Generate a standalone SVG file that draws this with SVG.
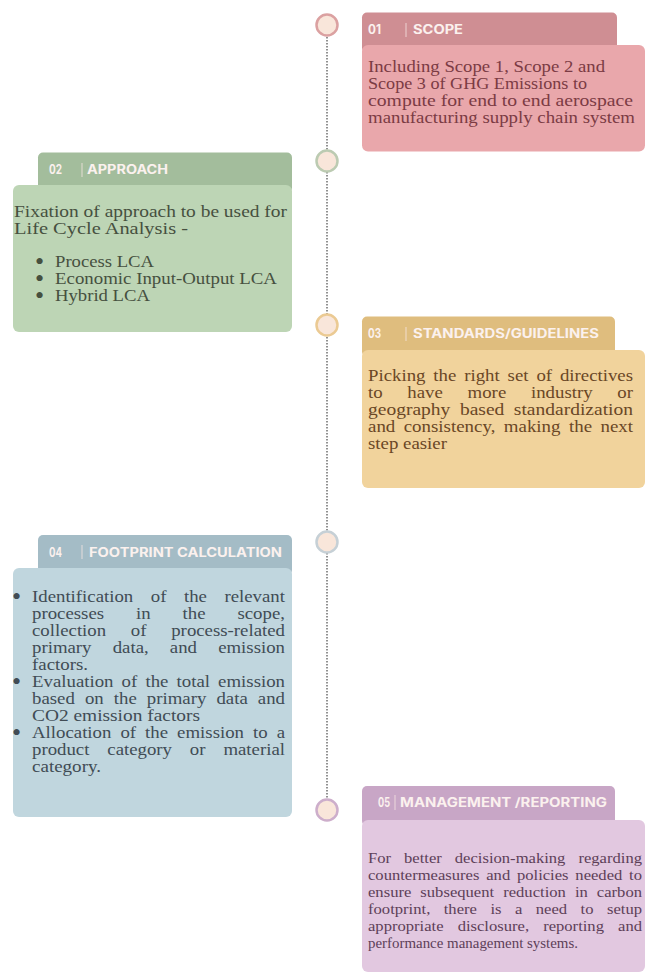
<svg xmlns="http://www.w3.org/2000/svg" width="652" height="974" viewBox="0 0 652 974">
<style>
.hd{font-family:Inter,"Open Sans","DejaVu Sans",sans-serif;font-weight:700;font-size:12.5px;fill:#fbf1ee}
.bar{stroke:#f6e6e2;stroke-width:0.8}
.bd{font-family:"Liberation Serif","Times New Roman",serif;font-size:17px}
.b5{font-family:"Liberation Serif","Times New Roman",serif;font-size:15px}
.bl{font-family:"Liberation Serif","Times New Roman",serif;font-size:26px}
.dot{fill:#f9e6da;stroke-width:2.5}
</style>
<rect width="652" height="974" fill="#ffffff"/>
<g id="connectors">
<line x1="327" y1="37" x2="327" y2="798" stroke="#6e6e6e" stroke-width="1.5" stroke-dasharray="1.5 1.5"/>
</g>
<g id="dots">
<circle class="dot" cx="327" cy="25" r="10.5" stroke="#dba1a1"/>
<circle class="dot" cx="327" cy="161" r="10.5" stroke="#bccbb2"/>
<circle class="dot" cx="327" cy="325" r="10.5" stroke="#ebca93"/>
<circle class="dot" cx="327" cy="542" r="10.5" stroke="#c6d0d6"/>
<circle class="dot" cx="327" cy="810" r="10.5" stroke="#cdaecb"/>
</g>
<g id="step01">
<rect x="362" y="12.5" width="255" height="40" rx="5" fill="#cf8e93"/>
<rect x="362" y="45" width="283" height="106.5" rx="6" fill="#e9a7ab"/>
<text class="hd" x="368" y="34" textLength="13" lengthAdjust="spacingAndGlyphs">01</text>
<line class="bar" x1="406" y1="23" x2="406" y2="37"/>
<text class="hd" x="413" y="34" textLength="50" lengthAdjust="spacingAndGlyphs">SCOPE</text>
<g class="bd" fill="#7b3b44">
<text x="368" y="72" textLength="237" lengthAdjust="spacingAndGlyphs">Including Scope 1, Scope 2 and</text>
<text x="368" y="89" textLength="219" lengthAdjust="spacingAndGlyphs">Scope 3 of GHG Emissions to</text>
<text x="368" y="106" textLength="265" lengthAdjust="spacingAndGlyphs">compute for end to end aerospace</text>
<text x="368" y="123" textLength="267" lengthAdjust="spacingAndGlyphs">manufacturing supply chain system</text>
</g>
</g>
<g id="step02">
<rect x="38" y="152.5" width="254" height="40" rx="5" fill="#a3bd9c"/>
<rect x="13" y="185" width="279" height="147" rx="6" fill="#bdd5b5"/>
<text class="hd" x="49" y="174" textLength="13" lengthAdjust="spacingAndGlyphs">02</text>
<line class="bar" x1="82" y1="163" x2="82" y2="177"/>
<text class="hd" x="87" y="174" textLength="81" lengthAdjust="spacingAndGlyphs">APPROACH</text>
<g class="bd" fill="#46503f">
<text x="14" y="217" textLength="273" lengthAdjust="spacingAndGlyphs">Fixation of approach to be used for</text>
<text x="14" y="234" textLength="174" lengthAdjust="spacingAndGlyphs">Life Cycle Analysis -</text>
<text class="bl" x="35" y="270">•</text>
<text x="55" y="267" textLength="99" lengthAdjust="spacingAndGlyphs">Process LCA</text>
<text class="bl" x="35" y="287">•</text>
<text x="55" y="284" textLength="222" lengthAdjust="spacingAndGlyphs">Economic Input-Output LCA</text>
<text class="bl" x="35" y="304">•</text>
<text x="55" y="301" textLength="95" lengthAdjust="spacingAndGlyphs">Hybrid LCA</text>
</g>
</g>
<g id="step03">
<rect x="362" y="316.5" width="253" height="40" rx="5" fill="#dfbd7e"/>
<rect x="362" y="350" width="283" height="138" rx="6" fill="#f1d39c"/>
<text class="hd" x="368" y="338" textLength="13" lengthAdjust="spacingAndGlyphs">03</text>
<line class="bar" x1="406" y1="327" x2="406" y2="341"/>
<text class="hd" x="413" y="338" textLength="186" lengthAdjust="spacingAndGlyphs">STANDARDS/GUIDELINES</text>
<g class="bd" fill="#6a4726">
<text x="368" y="381" textLength="265" lengthAdjust="spacingAndGlyphs" style="word-spacing:2.9px">Picking the right set of directives</text>
<text x="368" y="398" textLength="265" lengthAdjust="spacingAndGlyphs" style="word-spacing:18.1px">to have more industry or</text>
<text x="368" y="415" textLength="265" lengthAdjust="spacingAndGlyphs" style="word-spacing:4.1px">geography based standardization</text>
<text x="368" y="432" textLength="265" lengthAdjust="spacingAndGlyphs" style="word-spacing:3.35px">and consistency, making the next</text>
<text x="368" y="449" textLength="79" lengthAdjust="spacingAndGlyphs">step easier</text>
</g>
</g>
<g id="step04">
<rect x="38" y="535" width="254" height="40" rx="5" fill="#a4bcc6"/>
<rect x="13" y="568" width="279" height="249" rx="6" fill="#c0d6de"/>
<text class="hd" x="49" y="557" textLength="13" lengthAdjust="spacingAndGlyphs">04</text>
<line class="bar" x1="82" y1="545" x2="82" y2="559"/>
<text class="hd" x="89" y="557" textLength="193" lengthAdjust="spacingAndGlyphs">FOOTPRINT CALCULATION</text>
<g class="bd" fill="#414c55">
<text class="bl" x="12" y="605">•</text>
<text x="32" y="602" textLength="253" lengthAdjust="spacingAndGlyphs" style="word-spacing:11.6px">Identification of the relevant</text>
<text x="32" y="619" textLength="253" lengthAdjust="spacingAndGlyphs" style="word-spacing:24.6px">processes in the scope,</text>
<text x="32" y="636" textLength="253" lengthAdjust="spacingAndGlyphs" style="word-spacing:18.1px">collection of process-related</text>
<text x="32" y="653" textLength="253" lengthAdjust="spacingAndGlyphs" style="word-spacing:14.9px">primary data, and emission</text>
<text x="32" y="670" textLength="56" lengthAdjust="spacingAndGlyphs">factors.</text>
<text class="bl" x="12" y="690">•</text>
<text x="32" y="687" textLength="253" lengthAdjust="spacingAndGlyphs" style="word-spacing:3.1px">Evaluation of the total emission</text>
<text x="32" y="704" textLength="253" lengthAdjust="spacingAndGlyphs" style="word-spacing:4.9px">based on the primary data and</text>
<text x="32" y="721" textLength="168" lengthAdjust="spacingAndGlyphs">CO2 emission factors</text>
<text class="bl" x="12" y="741">•</text>
<text x="32" y="738" textLength="253" lengthAdjust="spacingAndGlyphs" style="word-spacing:3.9px">Allocation of the emission to a</text>
<text x="32" y="755" textLength="253" lengthAdjust="spacingAndGlyphs" style="word-spacing:11.9px">product category or material</text>
<text x="32" y="772" textLength="69" lengthAdjust="spacingAndGlyphs">category.</text>
</g>
</g>
<g id="step05">
<rect x="362" y="786" width="253" height="40" rx="5" fill="#c8a6c6"/>
<rect x="362" y="820" width="283" height="152" rx="6" fill="#e2c8e0"/>
<text class="hd" x="378" y="807" textLength="12" lengthAdjust="spacingAndGlyphs">05</text>
<line class="bar" x1="395" y1="795" x2="395" y2="810"/>
<text class="hd" x="400" y="807" textLength="207" lengthAdjust="spacingAndGlyphs">MANAGEMENT /REPORTING</text>
<g class="b5" fill="#5d3f58">
<text x="368" y="863" textLength="274" lengthAdjust="spacingAndGlyphs" style="word-spacing:8px">For better decision-making regarding</text>
<text x="368" y="880" textLength="274" lengthAdjust="spacingAndGlyphs" style="word-spacing:2.4px">countermeasures and policies needed to</text>
<text x="368" y="897" textLength="274" lengthAdjust="spacingAndGlyphs" style="word-spacing:4.4px">ensure subsequent reduction in carbon</text>
<text x="368" y="914" textLength="274" lengthAdjust="spacingAndGlyphs" style="word-spacing:8.4px">footprint, there is a need to setup</text>
<text x="368" y="931" textLength="274" lengthAdjust="spacingAndGlyphs" style="word-spacing:9px">appropriate disclosure, reporting and</text>
<text x="368" y="948" textLength="210" lengthAdjust="spacingAndGlyphs">performance management systems.</text>
</g>
</g>
</svg>
